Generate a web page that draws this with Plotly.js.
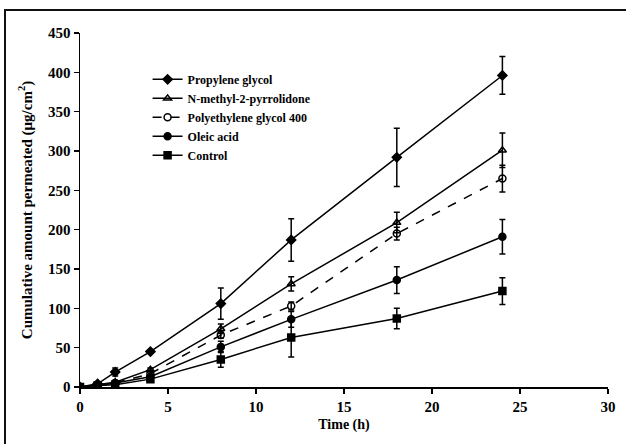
<!DOCTYPE html>
<html>
<head>
<meta charset="utf-8">
<script src="https://cdn.plot.ly/plotly-3.0.1.min.js"></script>
<style>
html,body{margin:0;padding:0;background:#fff;}
#wrap{position:relative;width:626px;height:444px;overflow:hidden;}
#chart{position:absolute;left:0;top:0;width:626px;height:444px;}
#frame{position:absolute;left:4px;top:9px;width:640px;height:460px;border-top:2px solid #111;border-left:2px solid #111;pointer-events:none;}
</style>
</head>
<body>
<div id="wrap"><div id="chart"></div><div id="frame"></div></div>
<script>
const time = [0, 1, 2, 4, 8, 12, 18, 24];
const seriesNames = ["Propylene glycol", "N-methyl-2-pyrrolidone", "Polyethylene glycol 400", "Oleic acid", "Control"];
const propyleneGlycol = [0, 4, 19, 45, 106, 187, 292, 396];
const propyleneGlycolErr = [0, 1, 5, 2, 20, 27, 37, 24];
const nmp = [0, 3, 6, 22, 74, 131, 209, 301];
const nmpErr = [0, 1, 1, 2, 6, 9, 13, 22];
const peg400 = [0, 2, 5, 17, 66, 103, 195, 265];
const peg400Err = [0, 1, 1, 2, 4, 5, 8, 17];
const oleicAcid = [0, 2, 5, 13, 51, 86, 136, 191];
const oleicAcidErr = [0, 1, 1, 2, 7, 10, 17, 22];
const control = [0, 2, 3, 10, 35, 63, 87, 122];
const controlErr = [0, 1, 1, 2, 10, 25, 13, 17];
const xTicks = [0, 5, 10, 15, 20, 25, 30];
const yTicks = [0, 50, 100, 150, 200, 250, 300, 350, 400, 450];

const values = [propyleneGlycol, nmp, peg400, oleicAcid, control];
const errs = [propyleneGlycolErr, nmpErr, peg400Err, oleicAcidErr, controlErr];
const symbols = ["diamond", "triangle-up-open", "circle-open", "circle", "square"];
const sizes = [7, 7, 7, 7, 7];
const dashes = ["solid", "solid", "dash", "solid", "solid"];

const traces = seriesNames.map((n, i) => ({
  x: time, y: values[i], name: n, type: "scatter", mode: "lines+markers",
  line: {color: "#000", width: 1.5, dash: dashes[i]},
  marker: {symbol: symbols[i], size: sizes[i], color: "#000", line: {color: "#000", width: 1.5}},
  error_y: {type: "data", array: errs[i], visible: true, color: "#000", thickness: 1.5, width: 3}
}));

const font = {family: "Liberation Serif, Times New Roman, serif", color: "#000"};
const layout = {
  width: 626, height: 444,
  margin: {l: 80, r: 18, t: 33, b: 57},
  paper_bgcolor: "#fff", plot_bgcolor: "#fff",
  showlegend: true,
  font: Object.assign({size: 13, weight: "bold"}, font),
  legend: {x: 0.128, y: 0.91, xanchor: "left", yanchor: "top", bgcolor: "rgba(0,0,0,0)",
    font: Object.assign({size: 12, weight: "bold"}, font), tracegroupgap: 0, itemwidth: 30},
  xaxis: {range: [0, 30], tickvals: xTicks, ticktext: xTicks.map(String), showgrid: false, zeroline: false,
    showline: true, linecolor: "#000", linewidth: 1.5, ticks: "outside", ticklen: 5, tickwidth: 1.5, tickcolor: "#000",
    tickfont: Object.assign({size: 15, weight: "bold"}, font),
    title: {text: "Time (h)", font: Object.assign({size: 14, weight: "bold"}, font), standoff: 5}},
  yaxis: {range: [0, 450], tickvals: yTicks, ticktext: yTicks.map(String), showgrid: false, zeroline: false,
    showline: true, linecolor: "#000", linewidth: 1.5, ticks: "outside", ticklen: 5, tickwidth: 1.5, tickcolor: "#000",
    tickfont: Object.assign({size: 15, weight: "bold"}, font),
    title: {text: "Cumulative amount permeated (μg/cm<sup>2</sup>)", font: Object.assign({size: 15, weight: "bold"}, font), standoff: 12}}
};
Plotly.newPlot("chart", traces, layout, {displayModeBar: false, staticPlot: true});
</script>
</body>
</html>
